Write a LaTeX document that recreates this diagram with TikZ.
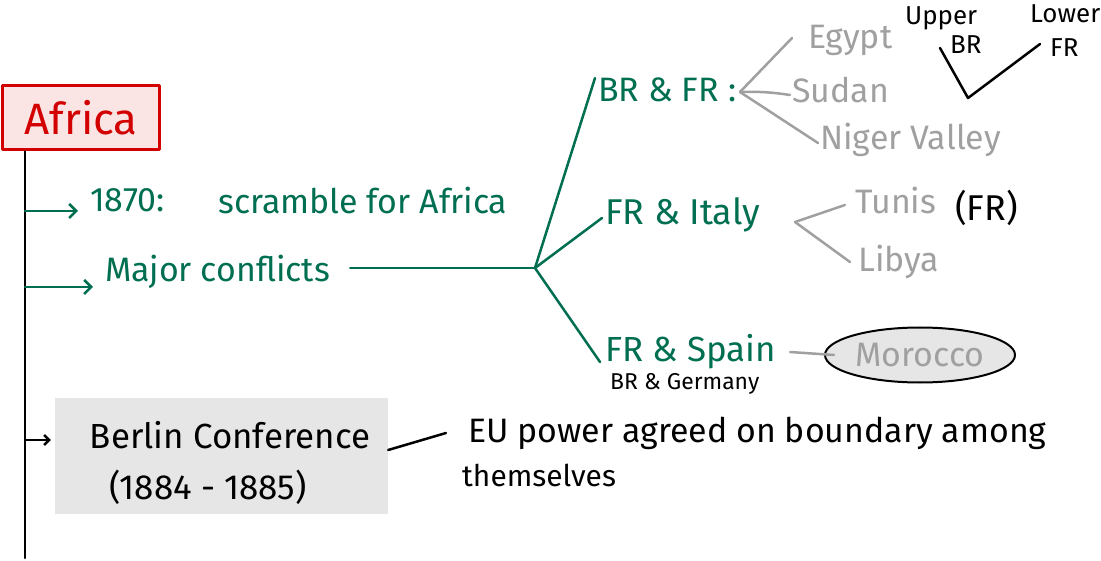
\documentclass[tikz,border=0pt]{standalone}
\usepackage{fontspec}
\setmainfont{Fira Sans}
\usetikzlibrary{arrows.meta,shapes.geometric}
\definecolor{grn}{RGB}{0,110,80}
\definecolor{gry}{RGB}{160,160,160}
\definecolor{rd}{RGB}{210,0,0}
\definecolor{pinkfill}{RGB}{250,228,228}
\definecolor{boxgray}{RGB}{230,230,230}
\newcommand\fsz[1]{\fontsize{#1}{#1}\selectfont}
\begin{document}
\begin{tikzpicture}[x=1bp,y=-1bp, line cap=round, line join=round,
  gtxt/.style={text=grn, inner sep=0pt, anchor=west, font=\fsz{34}},
  ytxt/.style={text=gry, inner sep=0pt, anchor=west, font=\fsz{34}},
  ktxt/.style={text=black, inner sep=0pt, anchor=west},
  gline/.style={draw=grn, line width=2.5bp},
  yline/.style={draw=gry, line width=2.5bp},
  kline/.style={draw=black, line width=2.5bp},
  barb/.style={-{Straight Barb[length=7bp,width=14bp]}},
]
\useasboundingbox (0,0) rectangle (1101,561);

% title box and timeline
\node[draw=rd, line width=3bp, fill=pinkfill, minimum width=157bp, minimum height=64bp,
      text=rd, font=\fsz{44}, inner sep=0pt] (africa) at (81,118) {Africa};
\coordinate (tbot) at (25,558);
\draw[kline] (africa.south -| tbot) -- (tbot);

% 1870
\node[gtxt] (y1870) at (90,200) {1870:};
\node[gtxt] (scr) at (218,200) {scramble for Africa};
\coordinate (a1) at (25,211);
\draw[gline,barb] (a1) -- ([xshift=-12bp]a1 -| y1870.west);

% Major conflicts
\node[gtxt] (mc) at (105,272) {Major conflicts};
\coordinate (a2) at (25,287);
\draw[gline,barb] (a2) -- ([xshift=-12bp]a2 -| mc.west);
\coordinate (J) at (535,268);
\draw[gline] ([xshift=20bp]mc.east |- J) -- (J);

% BR & FR
\node[gtxt] (brfr) at (598,90) {BR \& FR :};
\draw[gline] (J) -- ([xshift=-3bp,yshift=12bp]brfr.west);
\coordinate (h1) at (740,92);
\node[ytxt] (egypt) at (808,40) {Egypt};
\node[ytxt] (sudan) at (792,90) {Sudan};
\node[ytxt] (niger) at (820,140) {Niger Valley};
\draw[yline] (h1) -- ([xshift=-16bp,yshift=2bp]egypt.west);
\draw[yline] (h1) to[bend left=5] ([xshift=-2bp,yshift=-5bp]sudan.west);
\draw[yline] (h1) -- ([xshift=-2bp,yshift=-3bp]niger.west);

% Upper / Lower
\node[ktxt, font=\fsz{26}] (upper) at (905,18) {Upper};
\node[ktxt, font=\fsz{26}] (ubr) at (950,45) {BR};
\node[ktxt, font=\fsz{26}] (lower) at (1030,14) {Lower};
\node[ktxt, font=\fsz{26}] (lfr) at (1050,48) {FR};
\coordinate (v) at (968,98);
\draw[kline] ([xshift=-10bp,yshift=-3bp]ubr.west) -- (v) -- ([xshift=-10bp,yshift=4bp]lfr.west);

% FR & Italy
\node[gtxt, font=\fsz{36}] (frit) at (605,215) {FR \& Italy};
\draw[gline] (J) -- ([xshift=-3bp,yshift=-3bp]frit.west);
\coordinate (h2) at (795,222);
\node[ytxt] (tunis) at (855,200) {Tunis};
\node[ktxt, font=\fsz{36}] (frp) at (955,208) {(FR)};
\node[ytxt] (libya) at (858,262) {Libya};
\draw[yline] (h2) -- ([xshift=-10bp,yshift=-5bp]tunis.west);
\draw[yline] (h2) -- ([xshift=-8bp]libya.west);

% FR & Spain
\node[gtxt, font=\fsz{35}] (frsp) at (605,352) {FR \& Spain};
\node[ktxt, font=\fsz{23}] (brge) at (610,384) {BR \& Germany};
\draw[gline] (J) -- ([xshift=-5bp,yshift=-10bp]frsp.west);
\node[ellipse, draw=black, line width=2bp, fill=boxgray, minimum width=190bp, minimum height=55bp,
      text=gry, font=\fsz{34}, inner sep=0pt] (mor) at (920,355) {Morocco};
\draw[yline] ([xshift=14bp]frsp.east) -- ([xshift=10bp]mor.west);

% Berlin conference
\node[fill=boxgray, minimum width=333bp, minimum height=116bp, inner sep=0pt] (berlin) at (221.5,456) {};
\node[text=black, inner sep=0pt, font=\fsz{35}] (bl1) at (230,435) {Berlin Conference};
\node[text=black, inner sep=0pt, font=\fsz{35}] (bl2) at (208,487) {(1884 - 1885)};
\coordinate (a3) at (25,440);
\draw[kline,-{Straight Barb[length=5bp,width=10bp]}] (a3) -- ([xshift=-4bp]a3 -| berlin.west);
\node[ktxt, font=\fsz{34}] (eu) at (468,433) {EU power agreed on boundary among};
\node[ktxt, font=\fsz{30}] (them) at (462,475) {themselves};
\draw[kline] ([yshift=6bp]berlin.east) -- ([xshift=-22bp]eu.west);
\end{tikzpicture}
\end{document}
